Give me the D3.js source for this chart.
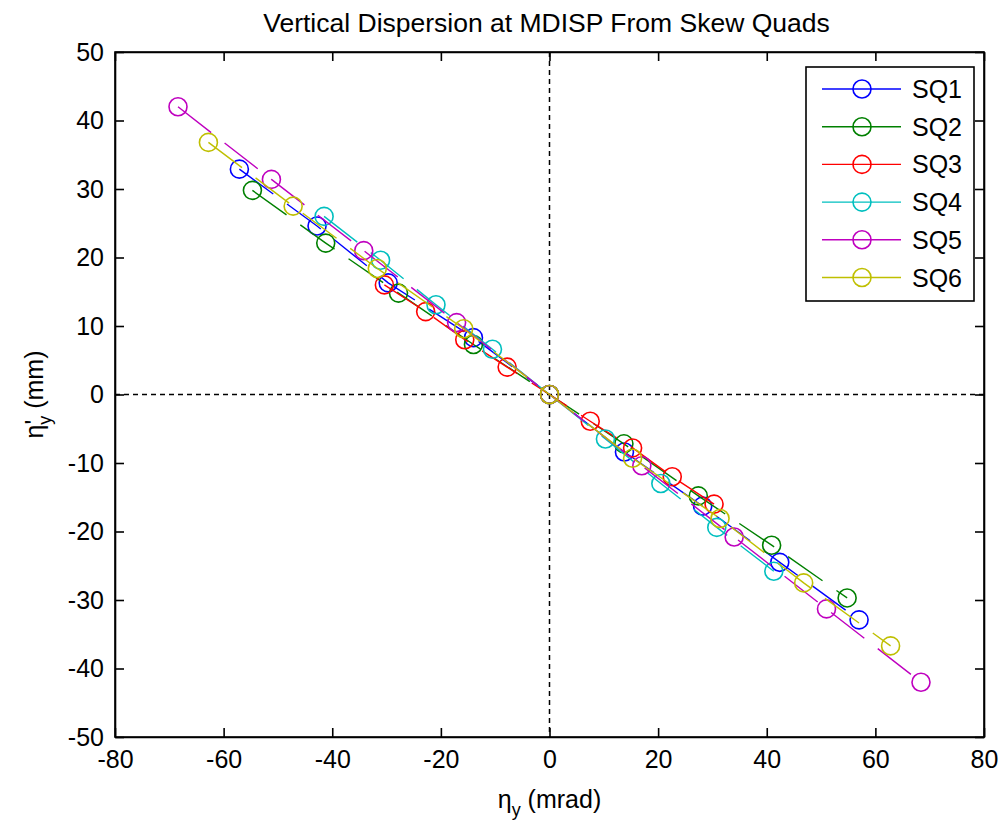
<!DOCTYPE html>
<html>
<head>
<meta charset="utf-8">
<script src="https://cdn.jsdelivr.net/npm/d3@7"></script>
<style>
  body { margin: 0; background: #fff; }
  svg { display: block; font-family: "Liberation Sans", Arial, sans-serif; }
</style>
</head>
<body>
<div id="chart"></div>
<script>
// data (eta_y in mrad, eta'_y in mm)
var seriesNames = ["SQ1", "SQ2", "SQ3", "SQ4", "SQ5", "SQ6"];
var seriesColors = ["#0000ff", "#008000", "#ff0000", "#00bfbf", "#bf00bf", "#bfbf00"];

var sq1X = [-57.1, -42.8, -29.7, -14.0, 0, 13.8, 28.2, 42.4, 57.0];
var sq1Y = [32.9, 24.6, 16.3, 8.3, 0, -8.4, -16.3, -24.5, -32.9];
var sq2X = [-54.7, -41.2, -27.8, -14.0, 0, 13.7, 27.4, 40.9, 54.8];
var sq2Y = [29.8, 22.1, 14.8, 7.3, 0, -7.2, -14.8, -22.0, -29.7];
var sq3X = [-30.4, -22.8, -15.6, -7.8, 0, 7.5, 15.3, 22.6, 30.3];
var sq3Y = [16.0, 12.1, 8.0, 4.0, 0, -3.9, -7.8, -12.0, -16.0];
var sq4X = [-41.5, -31.1, -20.9, -10.5, 0, 10.3, 20.5, 30.8, 41.3];
var sq4Y = [26.0, 19.6, 13.1, 6.6, 0, -6.5, -13.0, -19.4, -25.8];
var sq5X = [-68.4, -51.2, -34.2, -17.1, 0, 17.0, 34.0, 51.0, 68.4];
var sq5Y = [42.0, 31.4, 21.0, 10.5, 0, -10.4, -20.8, -31.3, -42.0];
var sq6X = [-62.8, -47.2, -31.7, -15.8, 0, 15.3, 31.4, 46.8, 62.8];
var sq6Y = [36.8, 27.5, 18.4, 9.6, 0, -9.3, -18.1, -27.5, -36.7];

var xTicks = [-80, -60, -40, -20, 0, 20, 40, 60, 80];
var yTicks = [-50, -40, -30, -20, -10, 0, 10, 20, 30, 40, 50];

var allX = [sq1X, sq2X, sq3X, sq4X, sq5X, sq6X];
var allY = [sq1Y, sq2Y, sq3Y, sq4Y, sq5Y, sq6Y];

var W = 1001, H = 821;
var margin = {top: 52, right: 17, bottom: 84, left: 115};
var w = W - margin.left - margin.right,
    h = H - margin.top - margin.bottom;

var svg = d3.select("#chart").append("svg")
    .attr("width", W)
    .attr("height", H);

var g = svg.append("g")
    .attr("transform", "translate(" + margin.left + "," + margin.top + ")");

var x = d3.scaleLinear().domain([-80, 80]).range([0, w]);
var y = d3.scaleLinear().domain([-50, 50]).range([h, 0]);

// zero lines
g.append("line")
    .attr("x1", x(0)).attr("x2", x(0))
    .attr("y1", 0).attr("y2", h)
    .attr("stroke", "#000").attr("stroke-width", 1.5)
    .attr("stroke-dasharray", "5,4");
g.append("line")
    .attr("x1", 0).attr("x2", w)
    .attr("y1", y(0)).attr("y2", y(0))
    .attr("stroke", "#000").attr("stroke-width", 1.5)
    .attr("stroke-dasharray", "5,4");

// series
var line = d3.line()
    .x(function(d) { return x(d[0]); })
    .y(function(d) { return y(d[1]); });

seriesNames.forEach(function(name, i) {
    var pts = allX[i].map(function(v, j) { return [v, allY[i][j]]; });
    g.append("path")
        .datum(pts)
        .attr("fill", "none")
        .attr("stroke", seriesColors[i])
        .attr("stroke-width", 1.4)
        .attr("stroke-dasharray", "42,17")
        .attr("d", line);
    g.selectAll(".pt" + i)
        .data(pts)
        .enter()
        .append("circle")
        .attr("cx", function(d) { return x(d[0]); })
        .attr("cy", function(d) { return y(d[1]); })
        .attr("r", 9)
        .attr("fill", "none")
        .attr("stroke", seriesColors[i])
        .attr("stroke-width", 1.6);
});

// axes, ticks inward like matlab
var fmt = function(d) { return String(d); };
g.append("g")
    .attr("transform", "translate(0," + h + ")")
    .call(d3.axisBottom(x).tickValues(xTicks).tickFormat(fmt).tickSizeInner(-9).tickSizeOuter(0).tickPadding(13));
g.append("g")
    .call(d3.axisLeft(y).tickValues(yTicks).tickFormat(fmt).tickSizeInner(-9).tickSizeOuter(0).tickPadding(11));
g.append("g")
    .call(d3.axisTop(x).tickValues(xTicks).tickSizeInner(-9).tickSizeOuter(0).tickFormat(""));
g.append("g")
    .attr("transform", "translate(" + w + ",0)")
    .call(d3.axisRight(y).tickValues(yTicks).tickSizeInner(-9).tickSizeOuter(0).tickFormat(""));

g.selectAll(".domain").attr("stroke", "#000").attr("stroke-width", 1.6);
g.selectAll(".tick line").attr("stroke", "#000").attr("stroke-width", 1.6);
g.selectAll(".tick text")
    .attr("fill", "#000")
    .style("font-size", "25px")
    .style("font-family", "Liberation Sans, Arial, sans-serif");

// box
g.append("rect")
    .attr("width", w).attr("height", h)
    .attr("fill", "none").attr("stroke", "#000").attr("stroke-width", 1.6);

// title
svg.append("text")
    .attr("x", margin.left + w / 2 - 3)
    .attr("y", 32)
    .attr("text-anchor", "middle")
    .style("font-size", "26.5px")
    .text("Vertical Dispersion at MDISP From Skew Quads");

// x label
var xl = svg.append("text")
    .attr("x", margin.left + w / 2)
    .attr("y", 808)
    .attr("text-anchor", "middle")
    .style("font-size", "25px");
xl.append("tspan").text("η");
xl.append("tspan").attr("dy", 8).style("font-size", "18px").text("y");
xl.append("tspan").attr("dy", -8).text(" (mrad)");

// y label
var yl = svg.append("text")
    .attr("transform", "translate(43," + (margin.top + h / 2) + ") rotate(-90)")
    .attr("text-anchor", "middle")
    .style("font-size", "25px");
yl.append("tspan").text("η");
yl.append("tspan").text("'");
yl.append("tspan").attr("dx", -5).attr("dy", 8).style("font-size", "18px").text("y");
yl.append("tspan").attr("dy", -8).text(" (mm)");

// legend
var lg = svg.append("g");
lg.append("rect")
    .attr("x", 806).attr("y", 67)
    .attr("width", 168).attr("height", 234)
    .attr("fill", "#fff").attr("stroke", "#000").attr("stroke-width", 1.6);

seriesNames.forEach(function(name, i) {
    var ly = 89 + i * 37.7;
    lg.append("line")
        .attr("x1", 822).attr("x2", 901)
        .attr("y1", ly).attr("y2", ly)
        .attr("stroke", seriesColors[i]).attr("stroke-width", 1.4);
    lg.append("circle")
        .attr("cx", 862).attr("cy", ly).attr("r", 9)
        .attr("fill", "none").attr("stroke", seriesColors[i]).attr("stroke-width", 1.6);
    lg.append("text")
        .attr("x", 912).attr("y", ly)
        .attr("dy", "0.36em")
        .style("font-size", "25px")
        .text(name);
});
</script>
</body>
</html>
